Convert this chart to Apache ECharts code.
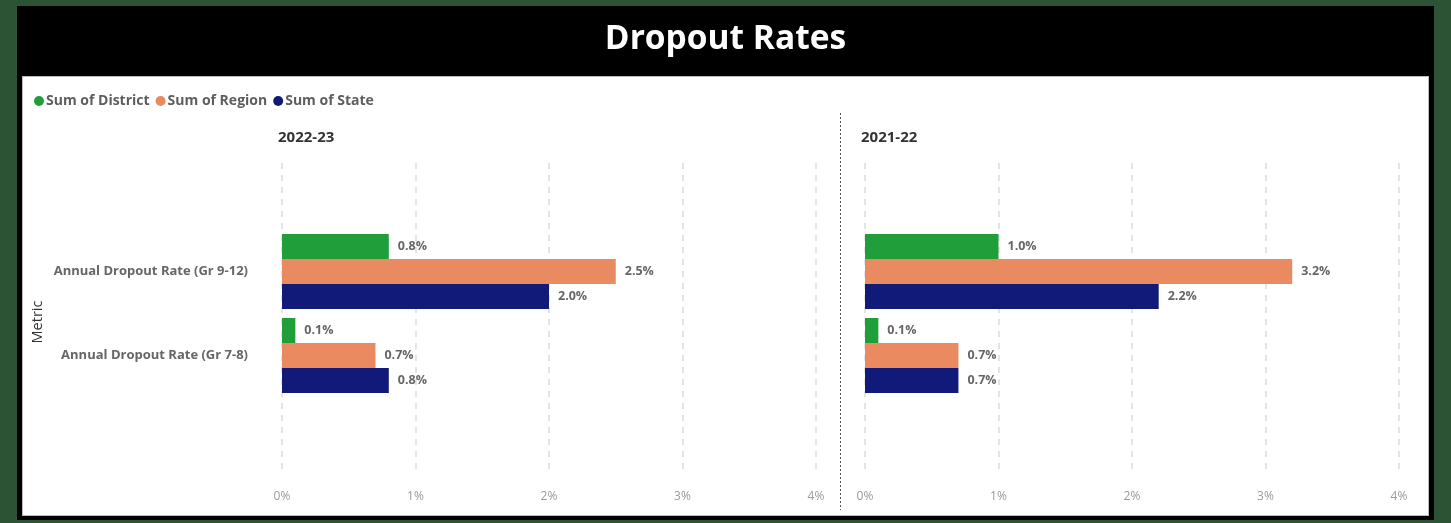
<!DOCTYPE html>
<html>
<head>
<meta charset="utf-8">
<script src="https://cdn.jsdelivr.net/npm/echarts@6/dist/echarts.min.js"></script>
<style>
  html, body { margin: 0; padding: 0; width: 1451px; height: 523px; background: #2D5335; overflow: hidden; }
  #frame { position: absolute; left: 17px; top: 6px; width: 1417px; height: 514px; background: #000; }
  #panel { position: absolute; left: 22px; top: 76px; width: 1405px; height: 438px; background: #fff; border: 1px solid #bbb; }
  #chart { position: absolute; left: 0; top: 0; width: 1451px; height: 523px; }
</style>
</head>
<body>
<div id="frame"></div>
<div id="panel"></div>
<div id="chart"></div>
<script>
const titleText = 'Dropout Rates';
const categories = ['Annual Dropout Rate (Gr 9-12)', 'Annual Dropout Rate (Gr 7-8)'];
const seriesNames = ['Sum of District', 'Sum of Region', 'Sum of State'];
const panelYears = ['2022-23', '2021-22'];
// values in percent, order per category list
const district2223 = [0.8, 0.1];
const region2223 = [2.5, 0.7];
const state2223 = [2.0, 0.8];
const district2122 = [1.0, 0.1];
const region2122 = [3.2, 0.7];
const state2122 = [2.2, 0.7];
const xTicks = [0, 1, 2, 3, 4];

const colors = ['#1F9E3A', '#EA8A60', '#111A78'];
const font = "'Open Sans', 'DejaVu Sans', sans-serif";

const panels = [
  { left: 282, data: [district2223, region2223, state2223], year: panelYears[0], showY: true },
  { left: 865, data: [district2122, region2122, state2122], year: panelYears[1], showY: false }
];
const plotWidth = 534;

const grids = [], xAxes = [], yAxes = [], series = [];
panels.forEach((p, pi) => {
  grids.push({ left: p.left, width: plotWidth, top: 163, height: 307 });
  grids.push({ left: p.left, width: plotWidth, top: 229.5, height: 168 });
  const gi = pi * 2;
  xAxes.push({
    type: 'value', gridIndex: gi, min: xTicks[0], max: xTicks[xTicks.length - 1], interval: 1,
    axisLine: { show: false }, axisTick: { show: false },
    axisLabel: { formatter: '{value}%', color: '#9a9a9a', fontSize: 12, fontFamily: font, margin: 21 },
    splitLine: { show: true, lineStyle: { color: '#dcdcdc', type: [6, 6], width: 1.5 } }
  });
  xAxes.push({
    type: 'value', gridIndex: gi + 1, min: xTicks[0], max: xTicks[xTicks.length - 1], show: false
  });
  yAxes.push({ type: 'value', gridIndex: gi, show: false });
  yAxes.push({
    type: 'category', gridIndex: gi + 1, data: categories, inverse: true,
    axisLine: { show: false }, axisTick: { show: false },
    axisLabel: { show: p.showY, color: '#666', fontSize: 13, fontWeight: 'bold', fontFamily: font, margin: 34 }
  });
  p.data.forEach((vals, si) => {
    series.push({
      type: 'bar', name: seriesNames[si], xAxisIndex: gi + 1, yAxisIndex: gi + 1,
      data: vals, barWidth: 25, barGap: '0%',
      itemStyle: { color: colors[si] },
      label: {
        show: true, position: 'right', distance: 9,
        formatter: (d) => d.value.toFixed(1) + '%',
        color: '#666', fontSize: 12.5, fontWeight: 'bold', fontFamily: font
      }
    });
  });
});

const chart = echarts.init(document.getElementById('chart'), null, { renderer: 'canvas' });
chart.setOption({
  backgroundColor: 'transparent',
  animation: false,
  color: colors,
  title: {
    text: titleText, left: 'center', top: 17,
    textStyle: { color: '#fff', fontSize: 33.5, fontWeight: 'bold', fontFamily: font }
  },
  legend: {
    data: seriesNames, left: 29, top: 89, icon: 'circle', itemWidth: 10, itemHeight: 10, itemGap: 6,
    textStyle: { color: '#605E5C', fontSize: 14, fontWeight: 'bold', fontFamily: font, padding: [0, 0, 0, -3] }
  },
  grid: grids,
  xAxis: xAxes,
  yAxis: yAxes,
  series: series,
  graphic: [
    { type: 'text', left: 278, top: 130, style: { text: panelYears[0], fill: '#333', font: 'bold 15px ' + font } },
    { type: 'text', left: 861, top: 130, style: { text: panelYears[1], fill: '#333', font: 'bold 15px ' + font } },
    { type: 'text', x: 38, y: 322, rotation: Math.PI / 2,
      style: { text: 'Metric', fill: '#333', font: '14.5px ' + font, textAlign: 'center', textVerticalAlign: 'middle' } },
    { type: 'line', shape: { x1: 840.5, y1: 113, x2: 840.5, y2: 510 },
      style: { stroke: '#555', lineWidth: 1, lineDash: [2, 2] } }
  ]
});
</script>
</body>
</html>
